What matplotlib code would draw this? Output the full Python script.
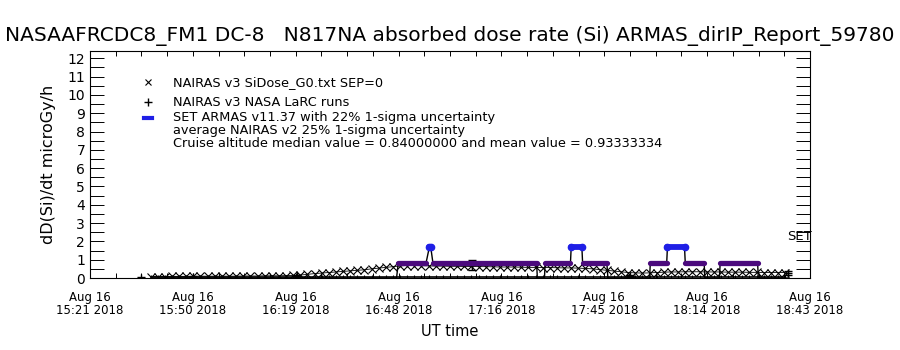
import matplotlib.pyplot as plt
import numpy as np

# time axis in minutes after 15:00 UT, Aug 16 2018
t_start = 21.0     # 15:21
t_end = 223.0      # 18:43
tick_labels = ["Aug 16\n15:21 2018", "Aug 16\n15:50 2018", "Aug 16\n16:19 2018",
               "Aug 16\n16:48 2018", "Aug 16\n17:16 2018", "Aug 16\n17:45 2018",
               "Aug 16\n18:14 2018", "Aug 16\n18:43 2018"]

# NAIRAS v3 SiDose_G0 (crosses)
nairas_t = [38, 40, 42, 44, 46, 48, 50, 52, 54, 56,
            58, 60, 62, 64, 66, 68, 70, 72, 74, 76, 78,
            80, 82, 84, 86, 88, 90, 92, 94, 96, 98, 100, 102, 104, 106,
            108, 110, 112, 114, 116, 118, 120, 122, 124, 126, 128, 130,
            132, 134, 136, 138, 140, 142, 144, 146, 148, 150, 152, 154, 156, 158, 160, 162, 164,
            166, 168, 170, 172, 174, 176, 178, 180,
            182, 184, 186, 188, 190, 192, 194, 196, 198, 200, 202, 204, 206, 208, 210, 212, 214, 216]
nairas_v = [0.08, 0.08, 0.08, 0.09, 0.09, 0.09, 0.09, 0.10, 0.10, 0.10,
            0.10, 0.10, 0.10, 0.11, 0.11, 0.11, 0.12, 0.12, 0.12, 0.13, 0.14,
            0.16, 0.20, 0.24, 0.27, 0.30, 0.33, 0.36, 0.39, 0.42, 0.45, 0.50, 0.54, 0.58, 0.62,
            0.66, 0.68, 0.68, 0.67, 0.66, 0.65, 0.65, 0.64, 0.64, 0.63, 0.63, 0.62,
            0.62, 0.61, 0.60, 0.60, 0.60, 0.59, 0.58, 0.58, 0.57, 0.57, 0.56, 0.55, 0.55, 0.54, 0.52, 0.50, 0.46,
            0.42, 0.38, 0.34, 0.30, 0.28, 0.27, 0.28, 0.30,
            0.32, 0.33, 0.33, 0.34, 0.34, 0.34, 0.33, 0.33, 0.33, 0.32, 0.32, 0.32, 0.31, 0.31, 0.30, 0.30, 0.30, 0.30]
# low comb trace near zero under the crosses
low_v = [0.05] * len(nairas_t)

# NAIRAS v3 NASA LaRC runs (+ with error bars)
larc_t = [35.4, 50.0, 79.0, 128.2, 172.5, 216.8]
larc_v = [0.02, 0.05, 0.10, 0.70, 0.10, 0.27]
larc_err = [0.05, 0.08, 0.08, 0.27, 0.06, 0.10]

# SET ARMAS runs: start, end, value
armas_start = [38.4, 107.5, 116.2, 117.2, 146.5, 148.7, 156.0, 159.2, 166.3, 178.2, 183.0, 188.0, 193.5, 197.8, 208.5]
armas_end = [107.0, 115.3, 116.6, 146.3, 148.5, 155.8, 159.0, 166.0, 178.0, 182.8, 187.8, 193.3, 197.6, 208.3, 217.0]
armas_v = [0.0, 0.84, 1.68, 0.84, 0.0, 0.84, 1.68, 0.84, 0.0, 0.84, 1.68, 0.84, 0.0, 0.84, 0.0]

purple = "#4b0a7d"
blue = "#1f1fe6"

fig = plt.figure(figsize=(9, 3.5), dpi=100)
ax = fig.add_axes([0.1, 0.2057, 0.8, 0.6486])

# black line joining the ARMAS runs
line_t, line_v = [], []
for s, e, v in zip(armas_start, armas_end, armas_v):
    line_t += [s, e]
    line_v += [v, v]
ax.plot(line_t, line_v, color="k", lw=1.0, zorder=2)

ax.plot(nairas_t, low_v, color="k", lw=1.2, marker="|", ms=3, mew=0.8, zorder=2)
ax.plot(nairas_t, nairas_v, color="k", lw=0.6, marker="x", ms=6, mew=0.8, zorder=3)

ax.errorbar(larc_t, larc_v, yerr=larc_err, fmt="+", color="k", ms=6, mew=1.0,
            elinewidth=1.0, capsize=3, zorder=4)

for s, e, v in zip(armas_start, armas_end, armas_v):
    if v == 0.84:
        ax.plot([s, e], [v, v], color=purple, lw=3.8, solid_capstyle="round", zorder=5)
    elif v == 1.68:
        ax.plot([s, e], [v, v], color=blue, lw=4.2, solid_capstyle="round",
                marker="o", ms=4.5, mec=blue, mfc=blue, zorder=5)

ax.set_xlim(t_start, t_end)
ax.set_ylim(0, 12.4)
ax.set_xticks(np.linspace(t_start, t_end, 8))
ax.set_xticks(np.linspace(t_start, t_end, 29), minor=True)
ax.set_xticklabels(tick_labels, fontsize=8.5, linespacing=1.0)
ax.set_yticks(np.arange(0, 13, 1))
ax.set_yticks(np.arange(0, 12.5, 0.5), minor=True)
ax.set_yticklabels([str(i) for i in range(13)], fontsize=10)

ax.tick_params(axis="x", which="both", direction="in", top=True, length=3.3, width=0.7, pad=9)
ax.tick_params(axis="y", which="both", direction="in", right=True, length=10.4, width=0.7, pad=3.5)
for sp in ax.spines.values():
    sp.set_linewidth(0.8)

ax.set_ylabel("dD(Si)/dt microGy/h", fontsize=11.5, labelpad=8)

fig.text(0.5, 0.897, "NASAAFRCDC8_FM1 DC-8   N817NA absorbed dose rate (Si) ARMAS_dirIP_Report_59780",
         ha="center", va="center", fontsize=14.5)
fig.text(0.5, 0.054, "UT time", ha="center", va="center", fontsize=10.5)

# legend block drawn inside the axes
sx, tx = 0.0806, 0.1153
ax.plot([sx], [0.863], marker="x", color="k", ms=4, mew=0.8, transform=ax.transAxes, clip_on=False)
ax.plot([sx], [0.775], marker="+", color="k", ms=6, mew=1.0, transform=ax.transAxes, clip_on=False)
ax.plot([sx - 0.006, sx + 0.006], [0.705, 0.705], color=blue, lw=3, transform=ax.transAxes)
leg_lines = ["NAIRAS v3 SiDose_G0.txt SEP=0", "NAIRAS v3 NASA LaRC runs",
             "SET ARMAS v11.37 with 22% 1-sigma uncertainty",
             "average NAIRAS v2 25% 1-sigma uncertainty",
             "Cruise altitude median value = 0.84000000 and mean value = 0.93333334"]
leg_y = [0.863, 0.775, 0.705, 0.648, 0.591]
for s, y in zip(leg_lines, leg_y):
    ax.text(tx, y, s, transform=ax.transAxes, fontsize=9.3, va="center", ha="left")

ax.text(0.986, 0.185, "SET", transform=ax.transAxes, fontsize=9.5, va="center", ha="center")

fig.savefig("out.png", dpi=100)
